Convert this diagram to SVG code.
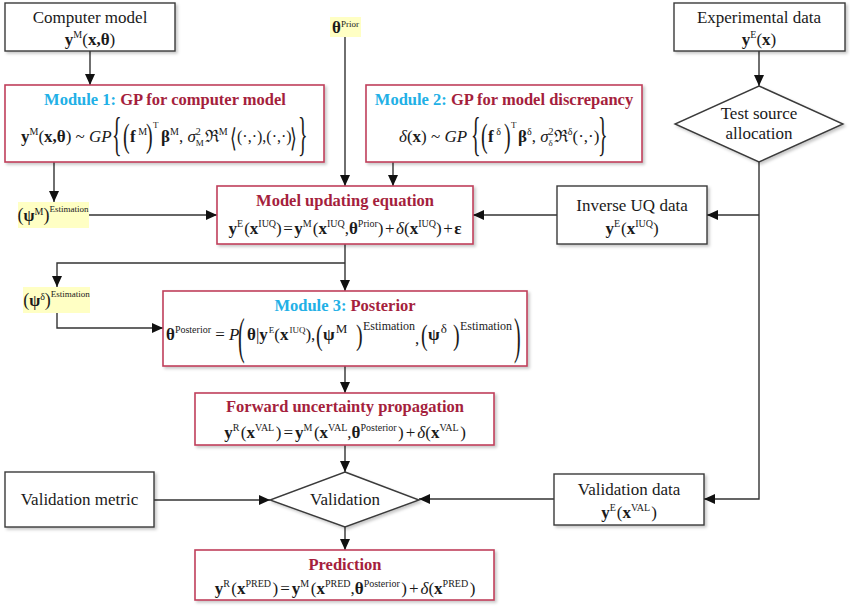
<svg xmlns="http://www.w3.org/2000/svg" width="850" height="608" viewBox="0 0 850 608">
<defs>
<style>
.t{font-family:"Liberation Serif","Times New Roman",serif;fill:#1a1a1a;font-size:17px}
.d{font-family:"Liberation Serif","Times New Roman",serif;fill:#1a1a1a;font-size:20px}
.b{font-weight:bold}
.i{font-style:italic}
.s{font-size:10px}
.ss{font-size:9px}
.e12{font-size:12px}
.f16{font-size:16px}
.box{fill:#fff;stroke:#3a3a3a;stroke-width:1.4}
.rbox{fill:#fff;stroke:#c0405a;stroke-width:1.6}
.lab{fill:#ffffc4;stroke:none}
.ttl{font-family:"Liberation Serif","Times New Roman",serif;font-weight:bold;font-size:16.5px;fill:#a51f3d}
.cy{fill:#22b0e6}
.con{fill:none;stroke:#333;stroke-width:1.4}
</style>
<marker id="ah" markerUnits="userSpaceOnUse" markerWidth="11" markerHeight="10" refX="11" refY="5" orient="auto">
<path d="M0,0 L11,5 L0,10 z" fill="#111"/>
</marker>
<filter id="sh" x="-5%" y="-5%" width="110%" height="120%">
<feDropShadow dx="2" dy="2" stdDeviation="1.5" flood-color="#000" flood-opacity="0.22"/>
</filter>
</defs>
<rect width="850" height="608" fill="#fff"/>

<g id="connectors">
<path class="con" marker-end="url(#ah)" d="M90,51 V85"/>
<path class="con" marker-end="url(#ah)" d="M759,51 V86"/>
<path class="con" marker-end="url(#ah)" d="M345,37 V186"/>
<path class="con" marker-end="url(#ah)" d="M393,162 V186"/>
<path class="con" marker-end="url(#ah)" d="M54,162 V202"/>
<path class="con" marker-end="url(#ah)" d="M89,215 H217"/>
<path class="con" marker-end="url(#ah)" d="M759,162 V499 H704"/>
<path class="con" marker-end="url(#ah)" d="M759,215 H707"/>
<path class="con" marker-end="url(#ah)" d="M557,215 H473"/>
<path class="con" marker-end="url(#ah)" d="M345,244 V291"/>
<path class="con" marker-end="url(#ah)" d="M345,263 H57 V287"/>
<path class="con" marker-end="url(#ah)" d="M57,313 V328 H163"/>
<path class="con" marker-end="url(#ah)" d="M345,366 V393"/>
<path class="con" marker-end="url(#ah)" d="M345,445 V472"/>
<path class="con" marker-end="url(#ah)" d="M154,500 H270"/>
<path class="con" marker-end="url(#ah)" d="M554,499 H419"/>
<path class="con" marker-end="url(#ah)" d="M345,527 V550"/>
</g>

<g id="computer-model">
<rect class="box" x="5" y="3" width="170" height="48" filter="url(#sh)"/>
<text class="t" x="90" y="23" text-anchor="middle">Computer model</text>
<text class="t" x="90" y="45" text-anchor="middle"><tspan class="b">y</tspan><tspan class="s" dy="-7">M</tspan><tspan dy="7">(</tspan><tspan class="b">x,θ</tspan><tspan>)</tspan></text>
</g>

<g id="theta-prior">
<rect class="lab" x="330" y="17" width="31" height="20"/>
<text class="t" x="332" y="33"><tspan class="b">θ</tspan><tspan class="ss" dy="-6">Prior</tspan></text>
</g>

<g id="experimental-data">
<rect class="box" x="674" y="3" width="171" height="48" filter="url(#sh)"/>
<text class="t" x="759" y="23" text-anchor="middle">Experimental data</text>
<text class="t" x="759" y="45" text-anchor="middle"><tspan class="b">y</tspan><tspan class="s" dy="-7">E</tspan><tspan dy="7">(</tspan><tspan class="b">x</tspan><tspan>)</tspan></text>
</g>

<g id="module1">
<rect class="rbox" x="5" y="85" width="319" height="77" filter="url(#sh)"/>
<text class="ttl" x="165" y="105" text-anchor="middle"><tspan class="cy">Module 1: </tspan><tspan>GP for computer model</tspan></text>
<text class="t" x="21" y="142"><tspan class="b">y</tspan><tspan class="s" dy="-7">M</tspan><tspan dy="7">(</tspan><tspan class="b">x,θ</tspan><tspan>) ~ </tspan><tspan class="i">GP</tspan></text>
<text class="d" transform="translate(112,149.8) scale(1,2.27)">{</text>
<text class="d" transform="translate(123,146.9) scale(1,1.69)">(</text>
<text class="t" x="130" y="142"><tspan class="b">f</tspan><tspan class="s" dy="-7"> M</tspan></text>
<text class="d" transform="translate(146,146.9) scale(1,1.69)">)</text>
<text class="t ss" x="153" y="128">T</text>
<text class="t" x="161" y="142"><tspan class="b">β</tspan><tspan class="s" dy="-7">M</tspan><tspan dy="7">, </tspan><tspan class="i">σ</tspan><tspan class="s" dy="-7">2</tspan><tspan class="ss" dy="11" dx="-5">M</tspan><tspan dy="-4" dx="1">ℜ</tspan><tspan class="s" dy="-7">M</tspan></text>
<text class="t" transform="translate(230,147) scale(1,1.5)">⟨</text>
<text class="t f16" x="237" y="142">(·,·),(·,·)</text>
<text class="t" transform="translate(290,147) scale(1,1.5)">⟩</text>
<text class="d" transform="translate(298,149.8) scale(1,2.27)">}</text>
</g>

<g id="module2">
<rect class="rbox" x="366" y="85" width="276" height="77" filter="url(#sh)"/>
<text class="ttl" x="504" y="105" text-anchor="middle"><tspan class="cy">Module 2: </tspan><tspan>GP for model discrepancy</tspan></text>
<text class="t" x="399" y="142"><tspan class="i">δ</tspan><tspan>(</tspan><tspan class="b">x</tspan><tspan>) ~ </tspan><tspan class="i">GP</tspan></text>
<text class="d" transform="translate(471,149.8) scale(1,2.27)">{</text>
<text class="d" transform="translate(481,146.9) scale(1,1.69)">(</text>
<text class="t" x="488" y="142"><tspan class="b">f</tspan><tspan class="s" dy="-7"> δ</tspan></text>
<text class="d" transform="translate(504,146.9) scale(1,1.69)">)</text>
<text class="t ss" x="511" y="128">T</text>
<text class="t" x="518" y="142"><tspan class="b">β</tspan><tspan class="s" dy="-7">δ</tspan><tspan dy="7">, </tspan><tspan class="i">σ</tspan><tspan class="s" dy="-7">2</tspan><tspan class="ss" dy="11" dx="-5">δ</tspan><tspan dy="-4" dx="1">ℜ</tspan><tspan class="s" dy="-7">δ</tspan><tspan dy="7">(·,·)</tspan></text>
<text class="d" transform="translate(598,149.8) scale(1,2.27)">}</text>
</g>

<g id="test-source-allocation">
<polygon class="box" points="759,86 843,124 759,162 675,124" filter="url(#sh)"/>
<text class="t" x="759" y="119" text-anchor="middle">Test source</text>
<text class="t" x="759" y="139" text-anchor="middle">allocation</text>
</g>

<g id="psi-m">
<rect class="lab" x="18" y="202" width="71" height="26"/>
<text class="t f16" x="53" y="221" text-anchor="middle"><tspan font-size="18">(</tspan><tspan class="b">ψ</tspan><tspan class="s" dy="-6">M</tspan><tspan dy="6" font-size="18">)</tspan><tspan class="ss" dy="-9">Estimation</tspan></text>
</g>

<g id="model-updating">
<rect class="rbox" x="217" y="186" width="256" height="58" filter="url(#sh)"/>
<text class="ttl" x="345" y="206" text-anchor="middle">Model updating equation</text>
<text class="t" x="345" y="234" text-anchor="middle"><tspan class="b">y</tspan><tspan class="s" dy="-7">E</tspan><tspan dy="7" dx="1">(</tspan><tspan class="b">x</tspan><tspan class="s" dy="-7">IUQ</tspan><tspan dy="7">)</tspan><tspan dx="1.5">=</tspan><tspan class="b" dx="1.5">y</tspan><tspan class="s" dy="-7">M</tspan><tspan dy="7" dx="1">(</tspan><tspan class="b">x</tspan><tspan class="s" dy="-7">IUQ</tspan><tspan dy="7">,</tspan><tspan class="b">θ</tspan><tspan class="s" dy="-7">Prior</tspan><tspan dy="7">)</tspan><tspan dx="1.5">+</tspan><tspan class="i" dx="1.5">δ</tspan><tspan>(</tspan><tspan class="b">x</tspan><tspan class="s" dy="-7">IUQ</tspan><tspan dy="7">)</tspan><tspan dx="1.5">+</tspan><tspan class="b" dx="1.5">ε</tspan></text>
</g>

<g id="inverse-uq-data">
<rect class="box" x="557" y="186" width="150" height="58" filter="url(#sh)"/>
<text class="t" x="632" y="211" text-anchor="middle">Inverse UQ data</text>
<text class="t" x="632" y="234" text-anchor="middle"><tspan class="b">y</tspan><tspan class="s" dy="-7">E</tspan><tspan dy="7" dx="1">(</tspan><tspan class="b">x</tspan><tspan class="s" dy="-7">IUQ</tspan><tspan dy="7">)</tspan></text>
</g>

<g id="psi-delta">
<rect class="lab" x="23" y="287" width="67" height="26"/>
<text class="t f16" x="56.5" y="306" text-anchor="middle"><tspan font-size="18">(</tspan><tspan class="b">ψ</tspan><tspan class="s" dy="-6">δ</tspan><tspan dy="6" font-size="18">)</tspan><tspan class="ss" dy="-9">Estimation</tspan></text>
</g>

<g id="module3">
<rect class="rbox" x="163" y="291" width="364" height="75" filter="url(#sh)"/>
<text class="ttl" x="345" y="311" text-anchor="middle"><tspan class="cy">Module 3: </tspan><tspan>Posterior</tspan></text>
<text class="t" x="166" y="340"><tspan class="b">θ</tspan><tspan class="s" dy="-7">Posterior</tspan><tspan dy="7"> = </tspan><tspan class="i">P</tspan></text>
<text class="d" transform="translate(238,352.8) scale(1,2.56)">(</text>
<text class="t" x="247" y="340"><tspan class="b">θ</tspan><tspan>|</tspan><tspan class="b">y</tspan><tspan font-size="9" dy="-7" dx="1">E</tspan><tspan dy="7">(</tspan><tspan class="b">x</tspan><tspan font-size="9" dy="-7" dx="1">IUQ</tspan><tspan dy="7">),</tspan></text>
<text class="d" transform="translate(316,344.8) scale(1,1.45)">(</text>
<text class="t" x="323" y="340"><tspan class="b">ψ</tspan><tspan font-size="13" dy="-7" dx="1">M</tspan></text>
<text class="d" transform="translate(356,344.8) scale(1,1.45)">)</text>
<text class="t e12" x="363" y="330">Estimation</text>
<text class="t" x="415" y="344">,</text>
<text class="d" transform="translate(421,344.8) scale(1,1.45)">(</text>
<text class="t" x="428" y="340"><tspan class="b">ψ</tspan><tspan font-size="13" dy="-7" dx="1">δ</tspan></text>
<text class="d" transform="translate(453,344.8) scale(1,1.45)">)</text>
<text class="t e12" x="460" y="330">Estimation</text>
<text class="d" transform="translate(514,352.8) scale(1,2.56)">)</text>
</g>

<g id="forward-propagation">
<rect class="rbox" x="195" y="393" width="299" height="52" filter="url(#sh)"/>
<text class="ttl" x="345" y="412" text-anchor="middle">Forward uncertainty propagation</text>
<text class="t" x="345" y="438" text-anchor="middle"><tspan class="b">y</tspan><tspan class="s" dy="-7">R</tspan><tspan dy="7" dx="1.5">(</tspan><tspan class="b">x</tspan><tspan class="s" dy="-7">VAL</tspan><tspan dy="7" dx="1.5">)</tspan><tspan dx="2">=</tspan><tspan class="b" dx="2">y</tspan><tspan class="s" dy="-7">M</tspan><tspan dy="7" dx="1.5">(</tspan><tspan class="b">x</tspan><tspan class="s" dy="-7">VAL</tspan><tspan dy="7">,</tspan><tspan class="b">θ</tspan><tspan class="s" dy="-7">Posterior</tspan><tspan dy="7" dx="1.5">)</tspan><tspan dx="2">+</tspan><tspan class="i" dx="2">δ</tspan><tspan>(</tspan><tspan class="b">x</tspan><tspan class="s" dy="-7">VAL</tspan><tspan dy="7" dx="1.5">)</tspan></text>
</g>

<g id="validation-metric">
<rect class="box" x="5" y="472" width="149" height="55" filter="url(#sh)"/>
<text class="t" x="79.5" y="505" text-anchor="middle">Validation metric</text>
</g>

<g id="validation">
<polygon class="box" points="345,472 419,500 345,527 270,500" filter="url(#sh)"/>
<text class="t" x="345" y="505" text-anchor="middle">Validation</text>
</g>

<g id="validation-data">
<rect class="box" x="554" y="474" width="150" height="51" filter="url(#sh)"/>
<text class="t" x="629" y="495" text-anchor="middle">Validation data</text>
<text class="t" x="629" y="518" text-anchor="middle"><tspan class="b">y</tspan><tspan class="s" dy="-7">E</tspan><tspan dy="7" dx="1">(</tspan><tspan class="b">x</tspan><tspan class="s" dy="-7">VAL</tspan><tspan dy="7" dx="1">)</tspan></text>
</g>

<g id="prediction">
<rect class="rbox" x="195" y="550" width="299" height="50" filter="url(#sh)"/>
<text class="ttl" x="345" y="570" text-anchor="middle">Prediction</text>
<text class="t" x="345" y="594" text-anchor="middle"><tspan class="b">y</tspan><tspan class="s" dy="-7">R</tspan><tspan dy="7" dx="1.5">(</tspan><tspan class="b">x</tspan><tspan class="s" dy="-7">PRED</tspan><tspan dy="7" dx="1.5">)</tspan><tspan dx="2">=</tspan><tspan class="b" dx="2">y</tspan><tspan class="s" dy="-7">M</tspan><tspan dy="7" dx="1.5">(</tspan><tspan class="b">x</tspan><tspan class="s" dy="-7">PRED</tspan><tspan dy="7">,</tspan><tspan class="b">θ</tspan><tspan class="s" dy="-7">Posterior</tspan><tspan dy="7" dx="1.5">)</tspan><tspan dx="2">+</tspan><tspan class="i" dx="2">δ</tspan><tspan>(</tspan><tspan class="b">x</tspan><tspan class="s" dy="-7">PRED</tspan><tspan dy="7" dx="1.5">)</tspan></text>
</g>
</svg>
